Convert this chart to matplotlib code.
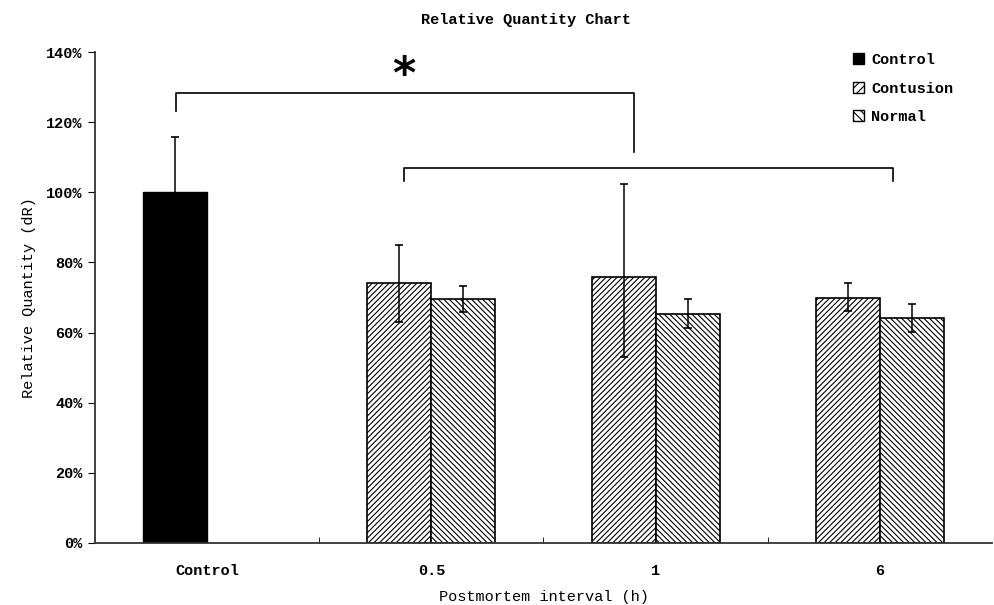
import numpy as np
import matplotlib.pyplot as plt
from matplotlib.patches import Patch

# Data (percent)
categories = ['Control', '0.5', '1', '6']
control_mean = [100.0]
control_err = [15.9]
contusion_mean = [74.0, 75.8, 69.9]
contusion_err_low = [10.9, 22.7, 3.7]
contusion_err_high = [11.0, 26.7, 4.2]
normal_mean = [69.7, 65.4, 64.2]
normal_err_low = [3.7, 4.0, 4.0]
normal_err_high = [3.7, 4.1, 3.9]
y_ticks = [0, 20, 40, 60, 80, 100, 120, 140]

# significance brackets: (x_left, x_right, y_top, left_leg_bottom, right_leg_bottom)
bracket_top = (-0.14, 1.905, 128.3, 123.2, 111.5)
bracket_low = (0.876, 3.059, 106.9, 103.2, 103.2)
star_pos = (0.877, 133.2)

FONT = 'Liberation Mono'
plt.rcParams['font.family'] = FONT
plt.rcParams['font.weight'] = 'bold'
plt.rcParams['hatch.linewidth'] = 0.8

W = 0.285  # bar width (category units)
HATCH_C = '//////'
HATCH_N = '\\' * 6

fig = plt.figure(figsize=(9.95, 6.05), dpi=100)
ax = fig.add_axes([95 / 995, 62 / 605, 897 / 995, 491 / 605])

x = np.arange(len(categories))
ebar_kw = dict(ecolor='black', elinewidth=1.1, capsize=3, capthick=1.2)

ax.bar(x[:1] - W / 2, control_mean, W, color='black', edgecolor='black',
       yerr=control_err, error_kw=ebar_kw, label='Control')
ax.bar(x[1:] - W / 2, contusion_mean, W, color='white', edgecolor='black',
       linewidth=1.2, hatch=HATCH_C,
       yerr=[contusion_err_low, contusion_err_high], error_kw=ebar_kw, label='Contusion')
ax.bar(x[1:] + W / 2, normal_mean, W, color='white', edgecolor='black',
       linewidth=1.2, hatch=HATCH_N,
       yerr=[normal_err_low, normal_err_high], error_kw=ebar_kw, label='Normal')

# brackets
for xl, xr, yt, yl, yr in (bracket_top, bracket_low):
    ax.plot([xl, xl, xr, xr], [yl, yt, yt, yr], color='black', lw=1.2, clip_on=False)
ax.text(star_pos[0], star_pos[1], '*', fontsize=32, fontweight='bold',
        ha='center', va='center', family='DejaVu Sans')

ax.set_xlim(-0.5, len(categories) - 0.5)
ax.set_ylim(0, 140)
ax.set_yticks(y_ticks)
ax.set_yticklabels([f'{t}%' for t in y_ticks])
ax.set_xticks(x)
ax.set_xticklabels(categories)
ax.set_xticks(x[:-1] + 0.5, minor=True)
ax.tick_params(axis='x', which='major', length=0, pad=15, labelsize=11)
ax.tick_params(axis='x', which='minor', direction='in', length=4)
ax.tick_params(axis='y', direction='out', length=5, pad=4, labelsize=11)

for s in ['top', 'right']:
    ax.spines[s].set_visible(False)
for s in ['left', 'bottom']:
    ax.spines[s].set_linewidth(1.3)
    ax.spines[s].set_color('#333333')

ax.set_xlabel('Postmortem interval (h)', fontsize=11, labelpad=9)
ax.set_ylabel('Relative Quantity (dR)', fontsize=11, labelpad=7)
fig.text(526 / 995, 1 - 20 / 605, 'Relative Quantity Chart', ha='center', va='center',
         fontsize=11)

handles = [Patch(facecolor='black', edgecolor='black'),
           Patch(facecolor='white', edgecolor='black', hatch='////'),
           Patch(facecolor='white', edgecolor='black', hatch='\\\\\\\\')]
fig.legend(handles, ['Control', 'Contusion', 'Normal'], loc='upper left',
           bbox_to_anchor=(853 / 995, 1 - 53 / 605), frameon=False, fontsize=11,
           handlelength=0.75, handleheight=0.75, handletextpad=0.45, labelspacing=0.95,
           borderaxespad=0, borderpad=0)

fig.savefig('out.png', dpi=100)
